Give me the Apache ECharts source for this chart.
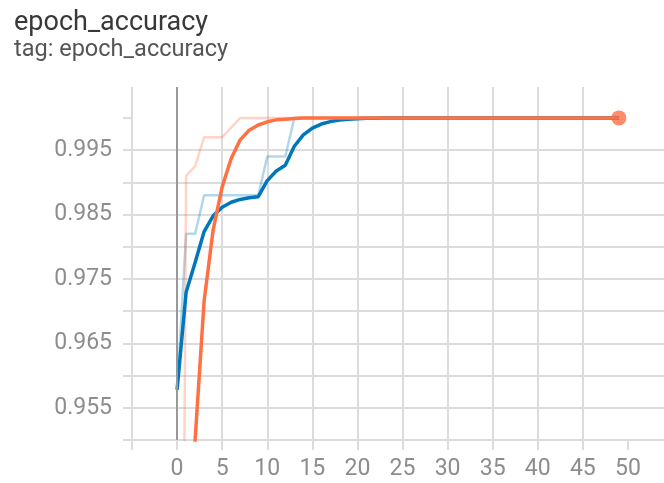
<!DOCTYPE html>
<html><head><meta charset="utf-8">
<script src="https://cdn.jsdelivr.net/npm/echarts@6/dist/echarts.min.js"></script>
<style>html,body{margin:0;padding:0;background:#fff}#c{width:664px;height:483px}</style>
</head><body><div id="c"></div>
<script>
const epochs = [0,1,2,3,4,5,6,7,8,9,10,11,12,13,14,15,16,17,18,19,20,21,22,23,24,25,26,27,28,29,30,31,32,33,34,35,36,37,38,39,40,41,42,43,44,45,46,47,48,49];

const blueRaw = [0.9578,0.982,0.982,0.988,0.988,0.988,0.988,0.988,0.988,0.988,0.994,0.994,0.994,1,1,1,1,1,1,1,1,1,1,1,1,1,1,1,1,1,1,1,1,1,1,1,1,1,1,1,1,1,1,1,1,1,1,1,1,1];
const blueSmooth = [0.9578,0.97293,0.97756,0.98236,0.9848,0.98614,0.98691,0.98735,0.98761,0.98777,0.99027,0.99177,0.99266,0.9956,0.99736,0.99842,0.99905,0.99943,0.99966,0.99979,0.99988,0.99993,0.99996,0.99998,0.99999,1,1,1,1,1,1,1,1,1,1,1,1,1,1,1,1,1,1,1,1,1,1,1,1,1];
const orangeRaw = [0.764,0.991,0.9925,0.997,0.997,0.997,0.9985,1,1,1,1,1,1,1,1,1,1,1,1,1,1,1,1,1,1,1,1,1,1,1,1,1,1,1,1,1,1,1,1,1,1,1,1,1,1,1,1,1,1,1];
const orangeSmooth = [0.764,0.90588,0.95007,0.97164,0.98263,0.9893,0.9937,0.9966,0.9981,0.9989,0.9994,0.9997,0.9998,0.9999,1,1,1,1,1,1,1,1,1,1,1,1,1,1,1,1,1,1,1,1,1,1,1,1,1,1,1,1,1,1,1,1,1,1,1,1];

const xTickValues = [-5,0,5,10,15,20,25,30,35,40,45,50];
const xTickLabels = [0,5,10,15,20,25,30,35,40,45,50];
const yTickValues = [0.95,0.955,0.96,0.965,0.97,0.975,0.98,0.985,0.99,0.995,1.0];
const yTickLabels = [0.955,0.965,0.975,0.985,0.995];

const BLUE = '#0077bb', ORANGE = '#ff7043', GRID = '#dcdcdc', LABEL = '#8d8d8d';
const pairs = arr => epochs.map((e, i) => [e, arr[i]]);
const last = epochs.length - 1;

const chart = echarts.init(document.getElementById('c'), null, {renderer: 'canvas'});
chart.setOption({
  animation: false,
  backgroundColor: '#fff',
  title: [
    {text: 'epoch_accuracy', left: 9, top: 5, textStyle: {fontFamily: 'Roboto', fontSize: 27, fontWeight: 'normal', color: '#383838'}},
    {text: 'tag: epoch_accuracy', left: 9, top: 33, textStyle: {fontFamily: 'Roboto', fontSize: 23.5, fontWeight: 'normal', color: '#555'}}
  ],
  grid: {left: 132, top: 87, bottom: 43, right: 0, containLabel: false},
  xAxis: {
    type: 'value', min: -5, max: 54, interval: 5,
    axisLine: {show: false, onZero: false},
    axisTick: {show: true, customValues: xTickValues, length: 10, lineStyle: {color: GRID, width: 2}},
    splitLine: {show: true, showMaxLine: false, lineStyle: {color: GRID, width: 2}},
    axisLabel: {customValues: xTickLabels, fontFamily: 'Roboto', fontSize: 23, color: LABEL, margin: 18}
  },
  yAxis: {
    type: 'value', min: 0.95, max: 1.0048, interval: 0.005,
    axisLine: {show: false, onZero: false},
    axisTick: {show: true, customValues: yTickValues, length: 9, lineStyle: {color: GRID, width: 2}},
    splitLine: {show: true, showMaxLine: false, lineStyle: {color: GRID, width: 2}},
    axisLabel: {customValues: yTickLabels, formatter: v => v.toFixed(3), fontFamily: 'Roboto', fontSize: 23, color: LABEL, margin: 20}
  },
  series: [
    {type: 'line', data: pairs(blueRaw), showSymbol: false, lineStyle: {color: BLUE, width: 2.5, opacity: 0.3}, itemStyle: {color: BLUE},
     markLine: {silent: true, symbol: ['none', 'none'], label: {show: false}, lineStyle: {color: '#999', width: 2, type: 'solid'}, data: [{xAxis: 0}]}},
    {type: 'line', data: pairs(orangeRaw), showSymbol: false, lineStyle: {color: ORANGE, width: 2.5, opacity: 0.3}, itemStyle: {color: ORANGE}},
    {type: 'line', data: pairs(blueSmooth), showSymbol: false, lineStyle: {color: BLUE, width: 3.5}, itemStyle: {color: BLUE}},
    {type: 'line', data: pairs(orangeSmooth), showSymbol: false, lineStyle: {color: ORANGE, width: 3.5}, itemStyle: {color: ORANGE}},
    {type: 'scatter', data: [[epochs[last], orangeSmooth[last]]], symbolSize: 15, itemStyle: {color: ORANGE}}
  ]
});
</script></body></html>
